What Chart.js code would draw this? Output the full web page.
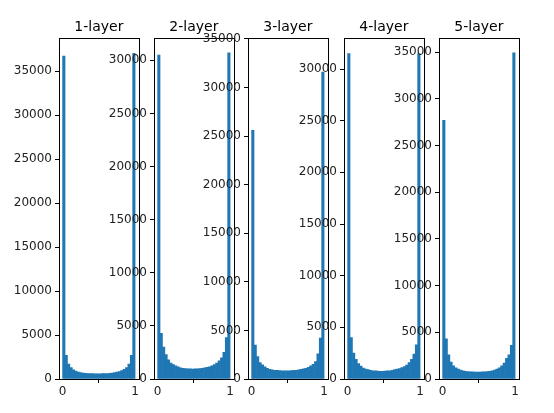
<!DOCTYPE html>
<html><head><meta charset="utf-8">
<script src="https://cdn.jsdelivr.net/npm/chart.js@4"></script>
<style>body{margin:0;background:#fff;width:554px;height:413px;position:relative;overflow:hidden}canvas{position:absolute;top:0}</style>
</head><body>
<script>
const titles = ["1-layer","2-layer","3-layer","4-layer","5-layer"];
const binCenters = Array.from({length:30},(_, i)=>(i+0.5)/30);
const layer1 = [36700,2700,1700,1300,1050,900,800,720,680,650,630,620,610,600,600,600,610,620,630,650,680,720,780,850,950,1100,1300,1700,2700,37000];
const layer2 = [30500,4300,3000,2300,1800,1500,1350,1250,1150,1050,1000,980,960,950,940,950,960,980,1000,1050,1100,1150,1250,1350,1500,1700,2000,2500,3900,30700];
const layer3 = [25600,3500,2300,1700,1450,1250,1100,1000,950,900,880,860,850,840,840,850,860,880,900,950,1000,1050,1100,1200,1350,1500,1800,2600,4200,31600];
const layer4 = [31500,4000,2500,1900,1500,1250,1050,950,900,850,800,780,760,750,750,760,780,800,850,900,950,1000,1100,1200,1350,1600,1900,2400,3300,31500];
const layer5 = [27700,4300,2600,1800,1400,1200,1050,950,880,830,800,780,760,750,750,750,760,780,800,830,880,950,1050,1200,1400,1700,2200,2600,3600,34900];
const yMax = [38750,32100,35100,33000,36500];
const xTicks = [0,1];
const series = [layer1,layer2,layer3,layer4,layer5];
const plotLefts = [59,154,248,344,439];
const plotW = 79, axW = 60;
const font = {family:"DejaVu Sans", size:12};
const boxPlugin = {id:'box', afterDraw(c){const a=c.chartArea,x=c.ctx;x.save();x.strokeStyle='#000';x.lineWidth=1;x.strokeRect(Math.round(a.left)+0.5,Math.round(a.top)+0.5,Math.round(a.right-a.left),Math.round(a.bottom-a.top));
x.fillStyle='#000';x.font='14px DejaVu Sans';x.textAlign='center';x.textBaseline='alphabetic';x.fillText(c.options.plugins.mytitle,(a.left+a.right)/2,a.top-7);x.restore();}};
series.forEach((s,k)=>{
  const cv=document.createElement('canvas');
  cv.style.left=(plotLefts[k]-axW)+'px';
  cv.style.width=(axW+plotW+3)+'px'; cv.style.height='413px';
  cv.width=axW+plotW+3; cv.height=413;
  document.body.appendChild(cv);
  new Chart(cv,{type:'bar',
    data:{datasets:[{data:binCenters.map((x,i)=>({x, y:s[i]})),backgroundColor:'#1f77b4',borderWidth:0,barPercentage:1,categoryPercentage:1}]},
    options:{responsive:false,animation:false,devicePixelRatio:1,
      layout:{padding:{top:38,right:2,left:0,bottom:0}},
      plugins:{legend:{display:false},tooltip:{enabled:false},mytitle:titles[k]},
      scales:{
        x:{type:'linear',min:-0.05,max:1.05,offset:false,
          afterBuildTicks(sc){sc.ticks=xTicks.map(v=>({value:v}));},
          afterFit(sc){sc.height=34;},
          grid:{drawOnChartArea:false,drawTicks:true,tickLength:4,display:true,
            color:ctx=>(ctx.tick&&xTicks.includes(ctx.tick.value))?'#000':'rgba(0,0,0,0)'},
          border:{display:false},
          ticks:{font,color:'#222',maxRotation:0,padding:2,callback:v=>String(v)}},
        y:{min:0,max:yMax[k],
          afterBuildTicks(sc){const t=[];for(let v=0;v<=yMax[k];v+=5000)t.push({value:v});sc.ticks=t;},
          afterFit(sc){sc.width=axW;},
          grid:{drawOnChartArea:false,drawTicks:true,tickLength:4,color:'#000'},
          border:{display:false},
          ticks:{font,color:'#222',padding:3,callback:v=>String(v)}}
      }},
    plugins:[boxPlugin]});
});
</script>
</body></html>
